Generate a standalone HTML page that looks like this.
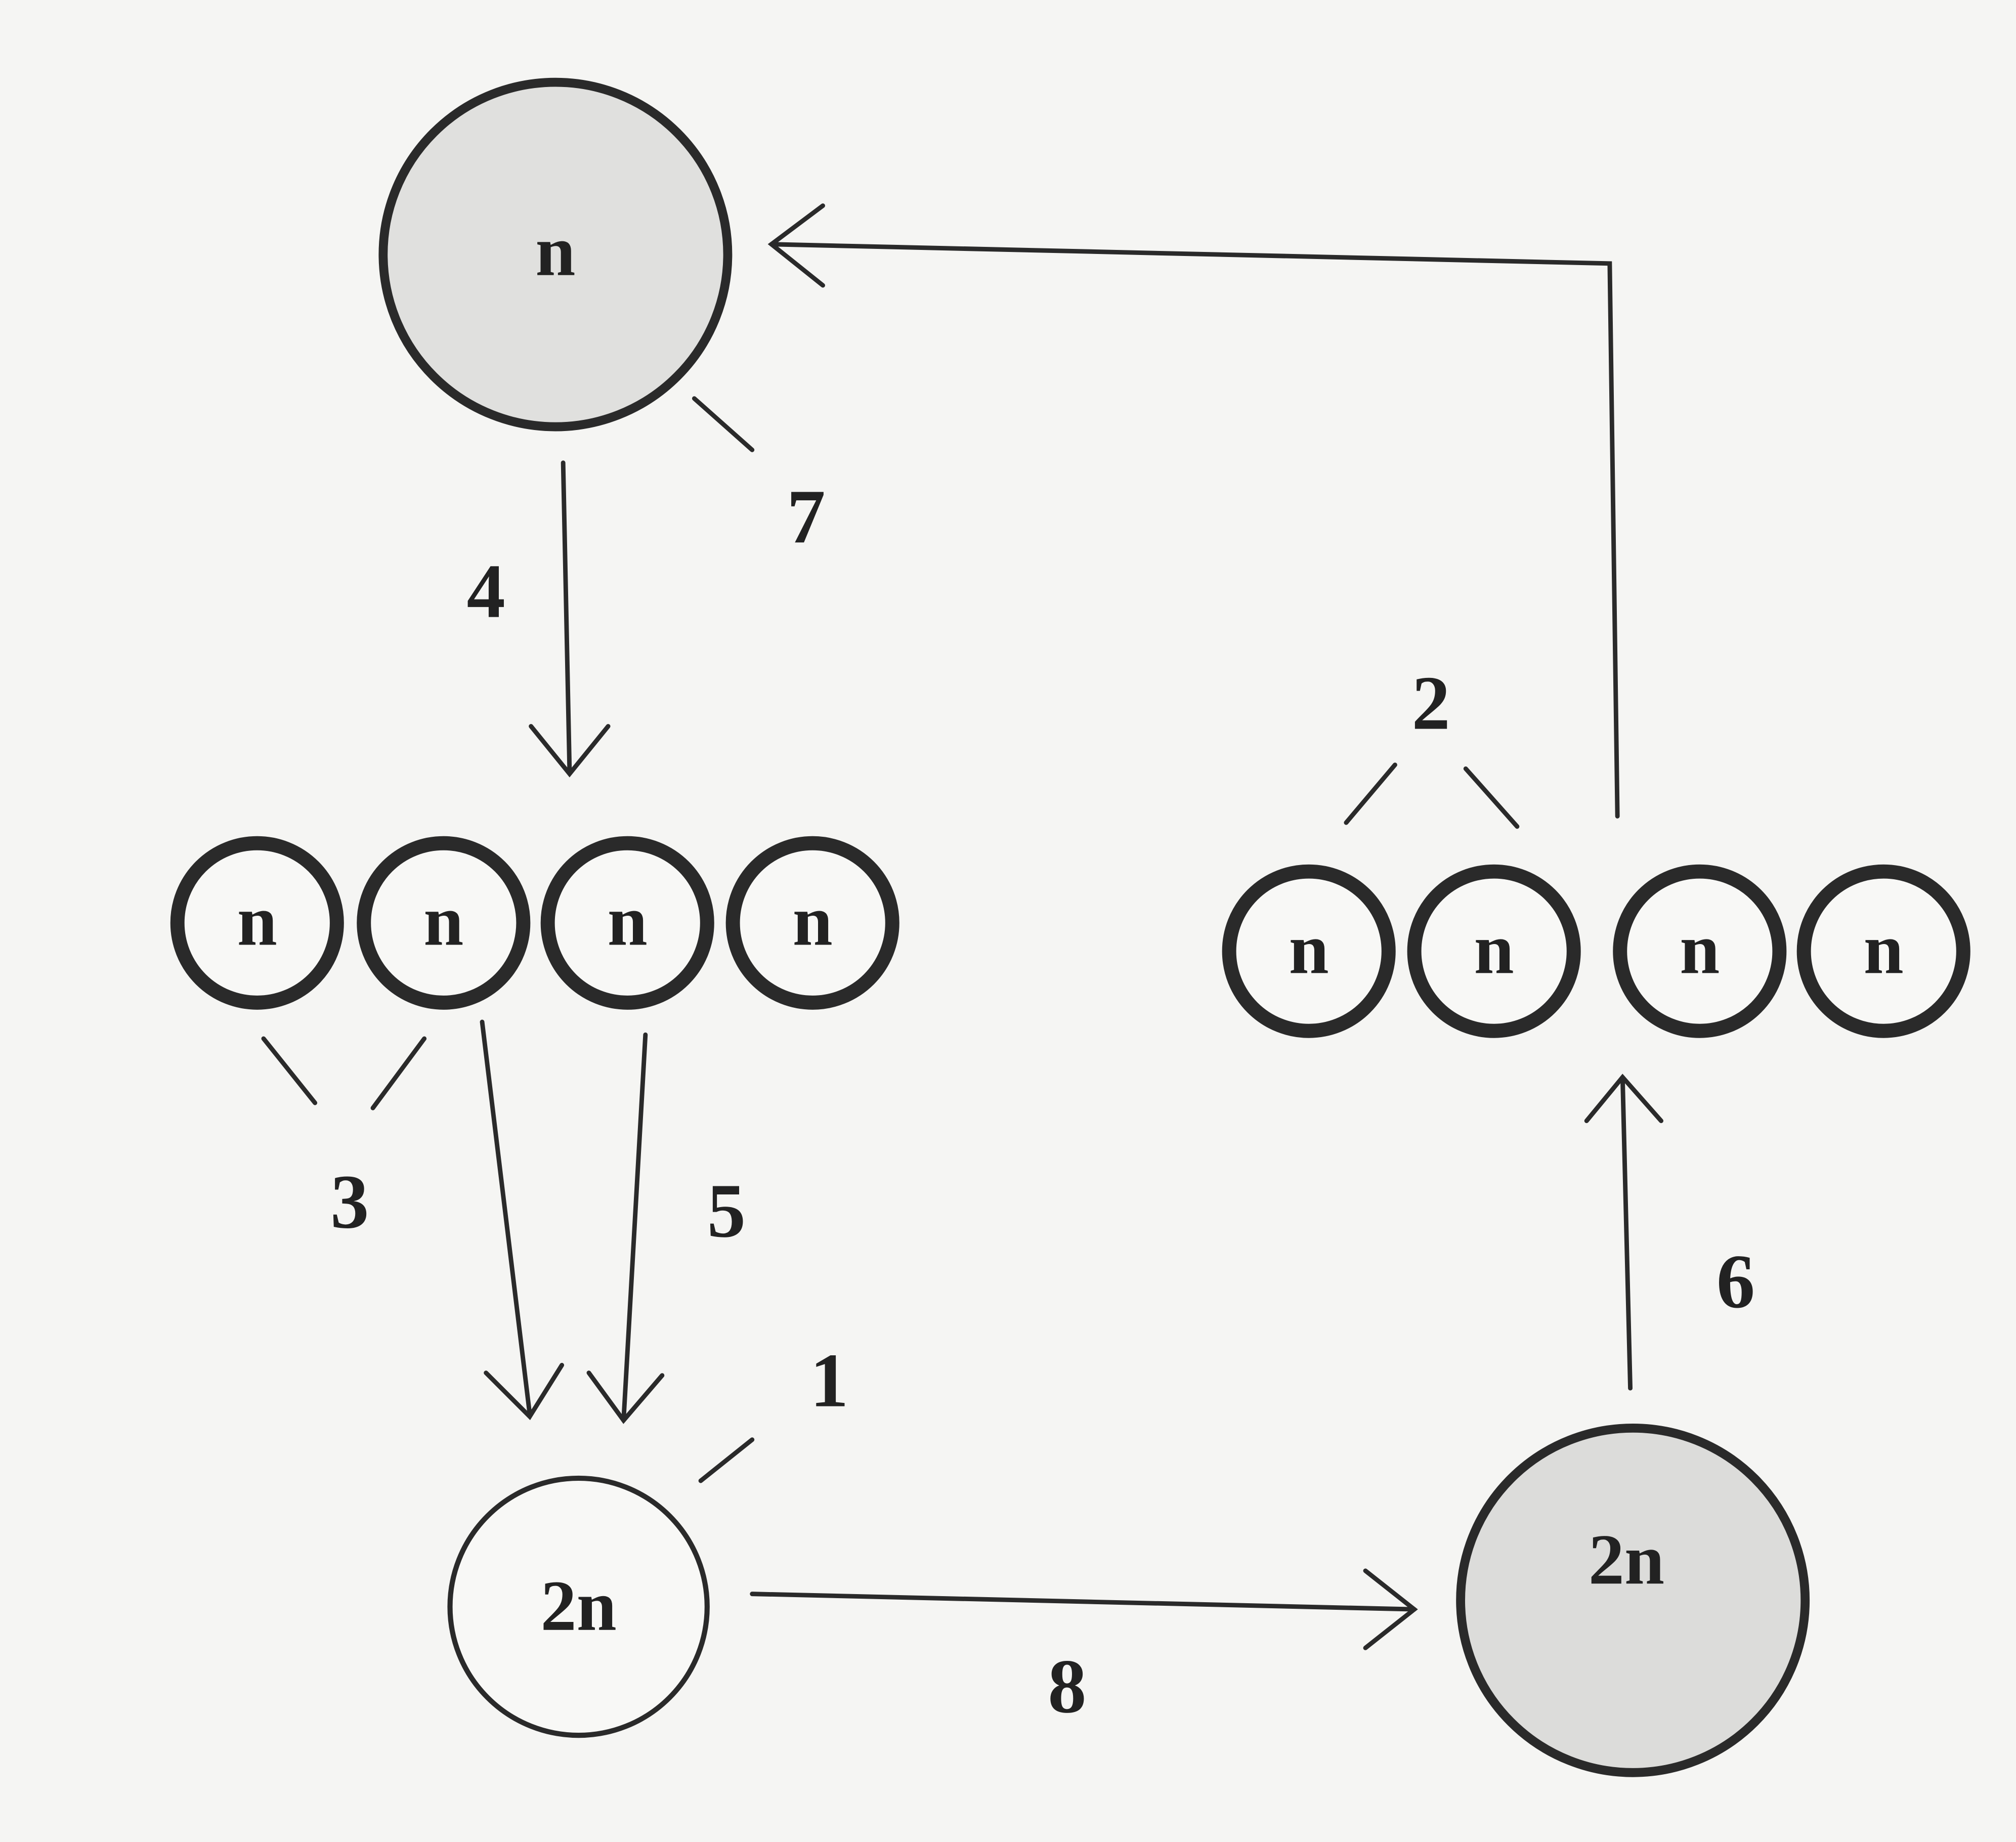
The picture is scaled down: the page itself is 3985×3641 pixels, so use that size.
<!DOCTYPE html>
<html><head><meta charset="utf-8"><style>
html,body{margin:0;padding:0;background:#f5f5f3;}
svg{display:block;}
text{font-family:"Liberation Serif",serif;font-weight:bold;fill:#222;text-anchor:middle;}
</style></head><body>
<svg width="3985" height="3641" viewBox="0 0 1568 1433" preserveAspectRatio="none">
<rect width="1568" height="1433" fill="#f5f5f3"/>
<g stroke="#2a2a2a" fill="none" stroke-linecap="round">
<circle cx="432" cy="198" r="134" fill="#e0e0de" stroke-width="7"/>
<circle cx="1270" cy="1245" r="134" fill="#dcdcda" stroke-width="7"/>
<circle cx="450" cy="1250" r="100" fill="#f8f8f6" stroke-width="4"/>
<g stroke-width="11" fill="#f8f8f6">
<circle cx="200" cy="718" r="62"/><circle cx="345" cy="718" r="62"/>
<circle cx="488" cy="718" r="62"/><circle cx="632" cy="718" r="62"/>
<circle cx="1018" cy="740" r="62"/><circle cx="1162" cy="740" r="62"/>
<circle cx="1322" cy="740" r="62"/><circle cx="1465" cy="740" r="62"/>
</g>
<g stroke-width="3.5">
<polyline points="1258,635 1252,205 600,190"/>
<polyline points="640,160 600,190 640,222"/>
<line x1="540" y1="310" x2="585" y2="350"/>
<line x1="438" y1="360" x2="443" y2="600"/>
<polyline points="413,565 443,602 473,565"/>
<line x1="205" y1="808" x2="245" y2="858"/>
<line x1="330" y1="808" x2="290" y2="862"/>
<line x1="375" y1="795" x2="412" y2="1100"/>
<polyline points="378,1068 412,1102 437,1062"/>
<line x1="502" y1="805" x2="485" y2="1105"/>
<polyline points="458,1068 485,1105 515,1070"/>
<line x1="585" y1="1120" x2="545" y2="1152"/>
<line x1="585" y1="1240" x2="1100" y2="1252"/>
<polyline points="1062,1222 1100,1252 1062,1282"/>
<line x1="1268" y1="1080" x2="1262" y2="838"/>
<polyline points="1234,872 1262,838 1292,872"/>
<line x1="1047" y1="640" x2="1085" y2="595"/>
<line x1="1140" y1="598" x2="1180" y2="643"/>
</g>
</g>
<g font-size="56">
<text x="432" y="214">n</text>
<text x="200" y="735">n</text><text x="345" y="735">n</text><text x="488" y="735">n</text><text x="632" y="735">n</text>
<text x="1018" y="757">n</text><text x="1162" y="757">n</text><text x="1322" y="757">n</text><text x="1465" y="757">n</text>
<text x="450" y="1268">2n</text>
<text x="1265" y="1232">2n</text>
</g>
<g font-size="60">
<text x="627" y="422">7</text>
<text x="378" y="480">4</text>
<text x="272" y="955">3</text>
<text x="565" y="962">5</text>
<text x="645" y="1094">1</text>
<text x="830" y="1332">8</text>
<text x="1350" y="1017">6</text>
<text x="1113" y="567">2</text>
</g>
</svg>
</body></html>
